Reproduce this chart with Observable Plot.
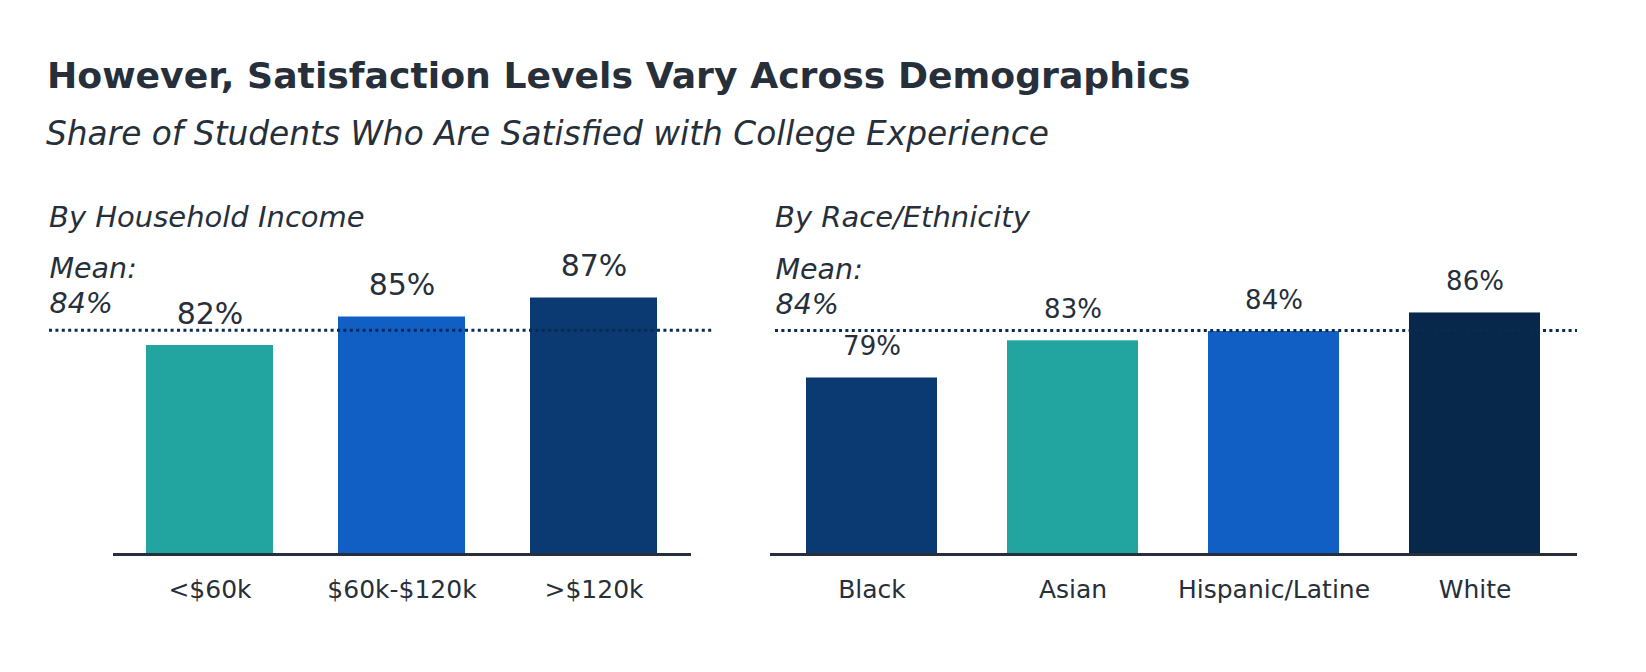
<!DOCTYPE html>
<html>
<head>
<meta charset="utf-8">
<script src="https://cdn.jsdelivr.net/npm/d3@7"></script>
<script src="https://cdn.jsdelivr.net/npm/@observablehq/plot@0.6"></script>
<style>
  html, body { margin: 0; padding: 0; background: #ffffff; }
  #root { position: relative; width: 1646px; height: 672px; overflow: hidden; font-family: "DejaVu Sans", Verdana, sans-serif; color: #262F3A; }
  .t { position: absolute; white-space: nowrap; line-height: 1; }
  #title { left: 47px; top: 57.5px; font-size: 36.2px; font-weight: bold; }
  #subtitle { left: 46px; top: 118px; font-size: 32.8px; font-style: italic; }
  .head { top: 202.5px; font-size: 29px; font-style: italic; }
  #headL { left: 49px; }
  #headR { left: 775px; }
  .panel { position: absolute; top: 230px; }
  #left { left: 0px; }
  #right { left: 730px; }
</style>
</head>
<body>
<div id="root">
  <div id="title" class="t"></div>
  <div id="subtitle" class="t"></div>
  <div id="headL" class="t head"></div>
  <div id="headR" class="t head"></div>
  <div id="left" class="panel"></div>
  <div id="right" class="panel"></div>
</div>
<script>
// ---- data ----
const titleText = "However, Satisfaction Levels Vary Across Demographics";
const subtitleText = "Share of Students Who Are Satisfied with College Experience";
const incomeHeading = "By Household Income";
const raceHeading = "By Race/Ethnicity";

const incomeCategories = ["<$60k", "$60k-$120k", ">$120k"];
const incomeValues = [82, 85, 87];
const incomeMean = 83.6;

const raceCategories = ["Black", "Asian", "Hispanic/Latine", "White"];
const raceValues = [79, 83, 84, 86];
const raceMean = 84.1;

const yFloor = 60;
const yCeil = 90;

// ---- text ----
document.getElementById("title").textContent = titleText;
document.getElementById("subtitle").textContent = subtitleText;
document.getElementById("headL").textContent = incomeHeading;
document.getElementById("headR").textContent = raceHeading;

const ink = "#262F3A";
const meanInk = "#0B2A4F";

function panel({cats, vals, mean, colors, width, marginLeft, marginRight, marginTop,
                padIn, padOut, labelSize, labelGap, meanInsetL, meanInsetR, meanDx, meanDy}) {
  const rows = cats.map((c, i) => ({cat: c, value: vals[i]}));
  return Plot.plot({
    width, height: 400,
    marginLeft, marginRight, marginTop, marginBottom: 76,
    style: {fontFamily: "DejaVu Sans, Verdana, sans-serif", color: ink, background: "transparent", overflow: "visible"},
    x: {domain: cats, paddingInner: padIn, paddingOuter: padOut, label: null},
    y: {domain: [yFloor, yCeil], axis: null},
    color: {domain: cats, range: colors},
    marks: [
      Plot.barY(rows, {x: "cat", y1: () => yFloor, y2: "value", fill: "cat"}),
      Plot.ruleY([yFloor], {stroke: ink, strokeWidth: 2.8}),
      Plot.ruleY([mean], {stroke: meanInk, strokeWidth: 3, strokeDasharray: "3,3.4",
                          insetLeft: meanInsetL, insetRight: meanInsetR}),
      Plot.text(rows, {x: "cat", y: "value", text: d => `${d.value}%`, lineAnchor: "bottom",
                       dy: -labelGap, fontSize: labelSize, fill: ink}),
      Plot.text([mean], {y: d => d, text: d => `Mean:\n${Math.round(d)}%`, frameAnchor: "left",
                         textAnchor: "start", lineAnchor: "bottom", dx: meanDx, dy: meanDy,
                         fontSize: 28.5, fontStyle: "italic", lineHeight: 1.228, fill: ink}),
      Plot.axisX({tickSize: 0, tickPadding: 26, fontSize: 25, label: null, fill: ink})
    ]
  });
}

document.getElementById("left").append(panel({
  cats: incomeCategories, vals: incomeValues, mean: incomeMean,
  colors: ["#22A5A0", "#115EC5", "#0B3A73"],
  width: 730, marginLeft: 113, marginRight: 39, marginTop: 39,
  padIn: 0.337, padOut: 0.168, labelSize: 30, labelGap: 22,
  meanInsetL: -64, meanInsetR: -22, meanDx: -64, meanDy: -17
}));

document.getElementById("right").append(panel({
  cats: raceCategories, vals: raceValues, mean: raceMean,
  colors: ["#0B3A73", "#22A5A0", "#115EC5", "#07284B"],
  width: 916, marginLeft: 40, marginRight: 69, marginTop: 45.3,
  padIn: 0.348, padOut: 0.18, labelSize: 26, labelGap: 23,
  meanInsetL: 5, meanInsetR: 0, meanDx: 5, meanDy: -17
}));
</script>
</body>
</html>
